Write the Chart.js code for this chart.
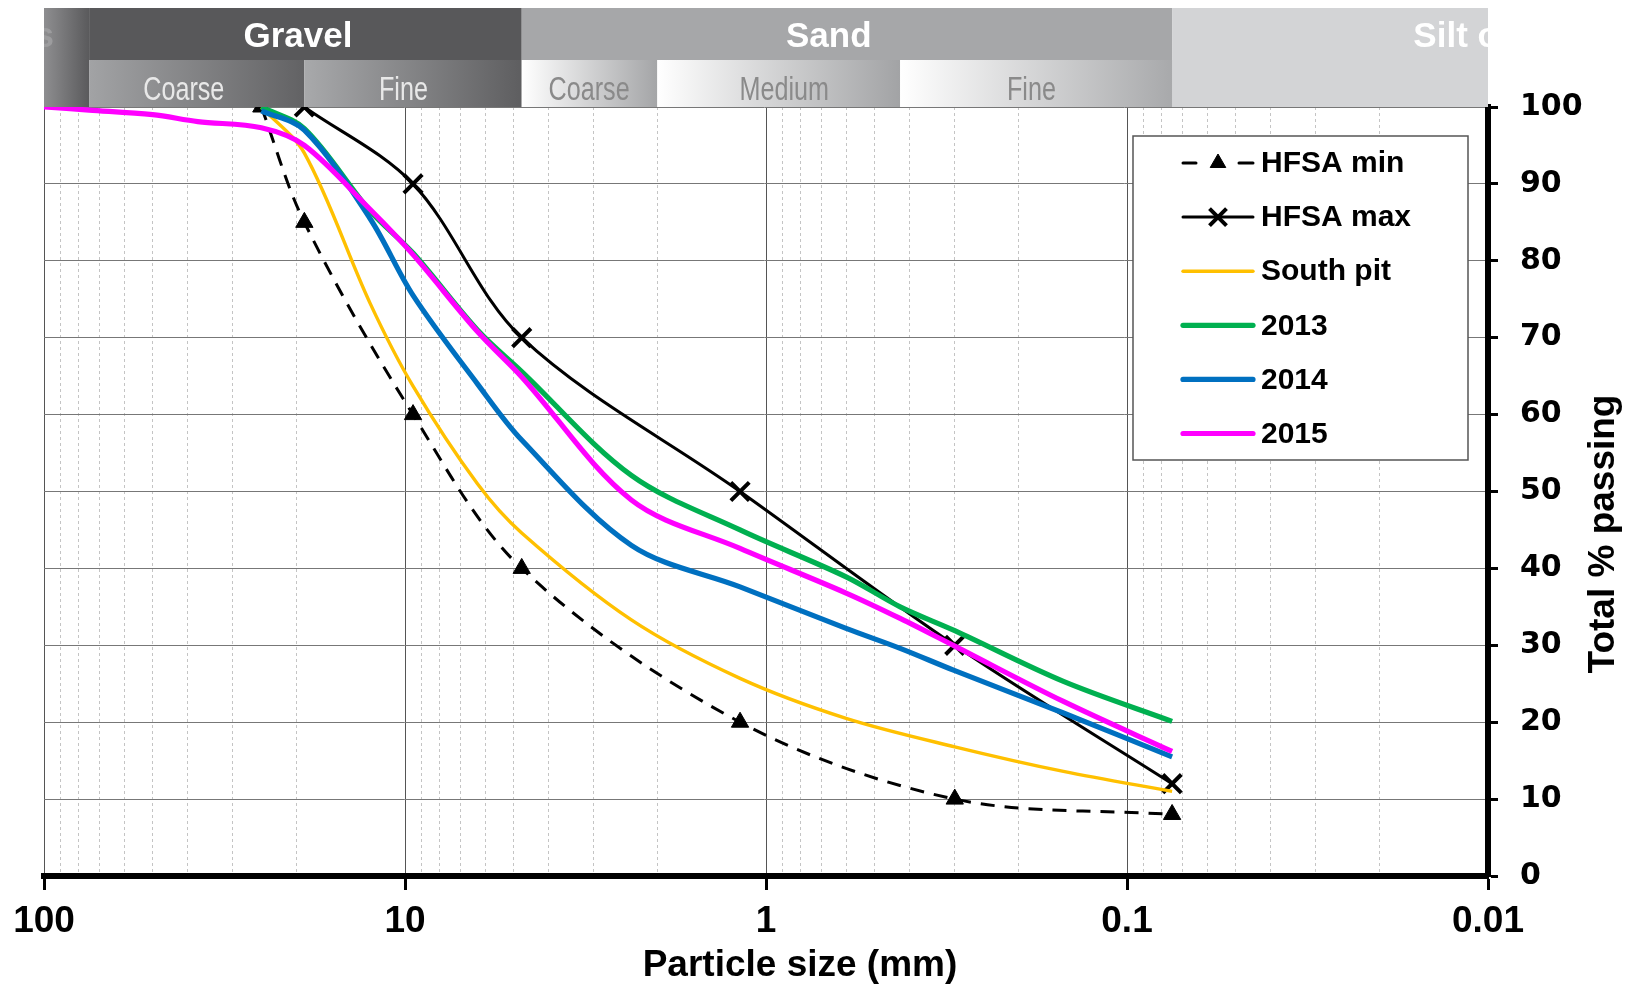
<!DOCTYPE html>
<html>
<head>
<meta charset="utf-8">
<script src="https://cdn.jsdelivr.net/npm/chart.js@4.4.0/dist/chart.umd.min.js"></script>
<style>
html, body { margin: 0; padding: 0; background: #fff; }
#wrap { width: 1632px; height: 988px; }
</style>
</head>
<body>
<div id="wrap"><canvas id="gradChart" width="1632" height="988"></canvas></div>
<script>
// sieve sizes (mm) and % passing
var hfsaMinSize = [25, 19, 9.5, 4.75, 1.18, 0.3, 0.075];
var hfsaMinPass = [100, 85, 60, 40, 20, 10, 8];
var hfsaMaxSize = [19, 9.5, 4.75, 1.18, 0.3, 0.075];
var hfsaMaxPass = [100, 90, 70, 50, 30, 12];
var southPitSize = [25, 19, 12.5, 9.5, 6.3, 4.75, 2.36, 1.18, 0.6, 0.3, 0.15, 0.075];
var southPitPass = [100, 94, 74.5, 63.7, 51, 44.6, 33.3, 25.7, 20.5, 16.8, 13.6, 11];
var sampleSize = [25, 19, 12.5, 9.5, 6.3, 4.75, 2.36, 1.18, 0.6, 0.425, 0.3, 0.15, 0.075];
var pass2013 = [100, 97.2, 86.5, 81, 71, 65.6, 52.1, 45, 38.9, 35, 31.9, 25.3, 20.1];
var pass2014 = [99.5, 97, 85.5, 75.5, 64, 56.7, 43, 37.6, 32.2, 29.6, 26.7, 21.2, 15.5];
var size2015 = [100, 75, 50, 37.5, 25, 19, 12.5, 9.5, 6.3, 4.75, 2.36, 1.18, 0.6, 0.425, 0.3, 0.15, 0.075];
var pass2015 = [100, 99.6, 99, 98.1, 97.3, 95, 86.7, 80.8, 70.8, 64.9, 48.9, 42.6, 36.8, 33.5, 29.9, 22.7, 16.2];

var seriesNames = ['HFSA min', 'HFSA max', 'South pit', '2013', '2014', '2015'];

// axis ticks
var xDecades = [100, 10, 1, 0.1, 0.01];
var xTickLabels = ['100', '10', '1', '0.1', '0.01'];
var yTicks = [0, 10, 20, 30, 40, 50, 60, 70, 80, 90, 100];

// soil classes shown in the band above the plot
var fractionNames = ['Cobbles', 'Gravel', 'Sand', 'Silt or clay'];
var fractionLimits = [[100, 75], [75, 4.75], [4.75, 0.075], [0.075, 0.01]];
var subNames = ['Coarse', 'Fine', 'Coarse', 'Medium', 'Fine'];
var subLimits = [[75, 19], [19, 4.75], [4.75, 2], [2, 0.425], [0.425, 0.075]];

function pts(sizes, vals) {
    var out = [];
    for (var i = 0; i < sizes.length; i++) out.push({x: sizes[i], y: vals[i]});
    return out;
}

function isDecade(v) {
    var l = Math.log10(v);
    return Math.abs(l - Math.round(l)) < 1e-6;
}

var xGridValues = [];
for (var d = 0; d < xDecades.length - 1; d++) {
    for (var m = 1; m <= 9; m++) xGridValues.push(xDecades[d + 1] * m);
}
xGridValues.push(100);

var bandPlugin = {
    id: 'band',
    afterDatasetsDraw: function(chart) {
        var ctx = chart.ctx, xs = chart.scales.x, area = chart.chartArea;
        var top = 8, mid = 60, bot = area.top;
        ctx.save();
        ctx.beginPath();
        ctx.rect(area.left, top, area.right - area.left, bot - top);
        ctx.clip();

        function grad(x0, x1, y0, y1, c0, c1) {
            var g = ctx.createLinearGradient(x0, 0, x1, 0);
            g.addColorStop(0, c0);
            g.addColorStop(1, c1);
            ctx.fillStyle = g;
            ctx.fillRect(x0, y0, x1 - x0, y1 - y0);
        }
        function px(v) { return xs.getPixelForValue(v); }

        // top row
        var topFill = [['#8e8e90', '#5a5a5c'], ['#58585a', '#58585a'], ['#a6a7a9', '#a6a7a9'], ['#d3d4d6', '#d3d4d6']];
        for (var i = 0; i < fractionLimits.length; i++) {
            var a = px(fractionLimits[i][0]), b = px(fractionLimits[i][1]);
            var full = (i === 0 || i === 3);
            grad(a, b, top, full ? bot : mid, topFill[i][0], topFill[i][1]);
        }
        // bottom row
        var subFill = [['#a2a3a5', '#626264'], ['#a8a9ab', '#5e5e60'], ['#ffffff', '#a4a5a7'], ['#ffffff', '#a2a3a5'], ['#ffffff', '#a8a9ab']];
        var subText = ['#e8e8e8', '#e8e8e8', '#8a8a8a', '#8a8a8a', '#8a8a8a'];
        for (var j = 0; j < subLimits.length; j++) {
            var s0 = px(subLimits[j][0]), s1 = px(subLimits[j][1]);
            grad(s0, s1, mid, bot, subFill[j][0], subFill[j][1]);
        }

        // labels (anchors in mm, where the original artwork put them)
        var topAt = [null, 19.8, 0.67, 0.0161];
        var subAt = [41, 10.1, 3.09, 0.89, 0.184];
        ctx.textBaseline = 'middle';
        ctx.font = 'bold 35px "Liberation Sans", Arial, sans-serif';
        ctx.fillStyle = '#9c9c9e';
        ctx.textAlign = 'right';
        ctx.fillText(fractionNames[0], px(fractionLimits[0][0]) + 10, 37);
        ctx.fillStyle = '#ffffff';
        ctx.textAlign = 'center';
        ctx.fillText(fractionNames[1], px(topAt[1]), 37);
        ctx.fillText(fractionNames[2], px(topAt[2]), 37);
        ctx.textAlign = 'left';
        ctx.fillText(fractionNames[3], px(topAt[3]), 37);

        ctx.font = '34px "Liberation Sans", Arial, sans-serif';
        ctx.textAlign = 'center';
        for (var k = 0; k < subLimits.length; k++) {
            ctx.save();
            ctx.translate(px(subAt[k]), 91);
            ctx.scale(0.74, 1);
            ctx.fillStyle = subText[k];
            ctx.fillText(subNames[k], 0, 0);
            ctx.restore();
        }
        ctx.restore();
    }
};

var legendPlugin = {
    id: 'boxLegend',
    afterDraw: function(chart) {
        var ctx = chart.ctx;
        var bx = 1133, by = 136, bw = 335, bh = 324;
        ctx.save();
        ctx.fillStyle = '#ffffff';
        ctx.fillRect(bx, by, bw, bh);
        ctx.strokeStyle = '#555';
        ctx.lineWidth = 1.5;
        ctx.strokeRect(bx, by, bw, bh);

        var x0 = 1183, x1 = 1253, tx = 1261;
        ctx.font = 'bold 30px "Liberation Sans", Arial, sans-serif';
        ctx.textBaseline = 'middle';
        ctx.textAlign = 'left';
        for (var i = 0; i < seriesNames.length; i++) {
            var ds = chart.data.datasets[i];
            var y = 163 + i * 54.1;
            var cx = (x0 + x1) / 2;
            ctx.strokeStyle = ds.borderColor;
            ctx.lineWidth = ds.borderWidth;
            ctx.lineCap = 'round';
            ctx.beginPath();
            if (ds.borderDash) {
                // short dash either side of the marker
                ctx.moveTo(x0, y); ctx.lineTo(x0 + 13, y);
                ctx.moveTo(x1 - 14, y); ctx.lineTo(x1, y);
            } else {
                ctx.moveTo(x0, y);
                ctx.lineTo(x1, y);
            }
            ctx.stroke();
            if (ds.pointRadius > 0) {
                ctx.fillStyle = ds.pointBackgroundColor;
                ctx.strokeStyle = ds.pointBorderColor;
                ctx.lineWidth = ds.pointBorderWidth;
                ctx.lineCap = 'butt';
                Chart.helpers.drawPoint(ctx, {pointStyle: ds.pointStyle, radius: ds.pointRadius - 1, borderWidth: ds.pointBorderWidth, rotation: 0}, cx, y);
            }
            ctx.fillStyle = '#000';
            ctx.fillText(ds.label, tx, y + 1);
        }

        // x axis title, centred where the original has it
        ctx.textAlign = 'center';
        ctx.font = 'bold 37px "Liberation Sans", Arial, sans-serif';
        ctx.fillText('Particle size (mm)', 800, 966);

        // right-hand axis title, reading bottom to top
        ctx.translate(1604, 534);
        ctx.rotate(-Math.PI / 2);
        ctx.font = 'bold 37px "Liberation Sans", Arial, sans-serif';
        ctx.fillText('Total % passing', 0, 0);
        ctx.restore();
    }
};

var ctx = document.getElementById('gradChart').getContext('2d');
var gradChart = new Chart(ctx, {
    type: 'line',
    data: {
        datasets: [{
            label: seriesNames[0],
            data: pts(hfsaMinSize, hfsaMinPass),
            borderColor: '#000',
            borderWidth: 3,
            borderDash: [14, 10],
            pointStyle: 'triangle',
            pointRadius: 10,
            pointBackgroundColor: '#000',
            pointBorderColor: '#000',
            pointBorderWidth: 1,
            order: 5
        }, {
            label: seriesNames[1],
            data: pts(hfsaMaxSize, hfsaMaxPass),
            borderColor: '#000',
            borderWidth: 3,
            pointStyle: 'crossRot',
            pointRadius: 13,
            pointBackgroundColor: '#000',
            pointBorderColor: '#000',
            pointBorderWidth: 4,
            order: 4
        }, {
            label: seriesNames[2],
            data: pts(southPitSize, southPitPass),
            borderColor: '#FFC000',
            borderWidth: 3.4,
            pointRadius: 0,
            order: 3
        }, {
            label: seriesNames[3],
            data: pts(sampleSize, pass2013),
            borderColor: '#00B050',
            borderWidth: 5.2,
            pointRadius: 0,
            order: 2
        }, {
            label: seriesNames[4],
            data: pts(sampleSize, pass2014),
            borderColor: '#0070C0',
            borderWidth: 5.2,
            pointRadius: 0,
            order: 1
        }, {
            label: seriesNames[5],
            data: pts(size2015, pass2015),
            borderColor: '#FF00FF',
            borderWidth: 5.2,
            pointRadius: 0,
            order: 0
        }]
    },
    options: {
        responsive: false,
        animation: false,
        devicePixelRatio: 1,
        layout: { padding: { top: 107, left: 44, right: 0, bottom: 0 } },
        elements: { line: { tension: 0.33, fill: false } },
        plugins: {
            legend: { display: false },
            tooltip: { enabled: false }
        },
        scales: {
            x: {
                type: 'logarithmic',
                reverse: true,
                min: 0.01,
                max: 100,
                afterBuildTicks: function(scale) {
                    scale.ticks = xGridValues.map(function(v) { return {value: v, major: isDecade(v)}; });
                },
                afterFit: function(scale) { scale.height = 112; },
                ticks: {
                    autoSkip: false,
                    maxRotation: 0,
                    minRotation: 0,
                    padding: 10,
                    color: '#000',
                    font: { family: '"Liberation Sans", Arial, sans-serif', size: 37, weight: 'bold' },
                    callback: function(v) {
                        var idx = xDecades.findIndex(function(d) { return Math.abs(Math.log10(d) - Math.log10(v)) < 1e-6; });
                        return idx >= 0 ? xTickLabels[idx] : '';
                    }
                },
                grid: {
                    color: function(c) { return c.tick && isDecade(c.tick.value) ? '#555' : '#c4c4c4'; },
                    lineWidth: 1,
                    tickColor: function(c) { return c.tick && isDecade(c.tick.value) ? '#000' : 'rgba(0,0,0,0)'; },
                    tickWidth: 3,
                    tickLength: 14
                },
                border: {
                    color: '#000',
                    width: 6,
                    dash: function(c) { return c.tick && !isDecade(c.tick.value) ? [3, 3] : []; }
                },
                title: { display: false }
            },
            y: {
                type: 'linear',
                position: 'right',
                min: 0,
                max: 100,
                afterBuildTicks: function(scale) {
                    scale.ticks = yTicks.map(function(v) { return {value: v}; });
                },
                afterFit: function(scale) { scale.width = 144; },
                ticks: {
                    padding: 22,
                    color: '#000',
                    font: { family: '"DejaVu Sans", sans-serif', size: 30, weight: 'bold' }
                },
                grid: {
                    color: '#777',
                    lineWidth: 1,
                    tickColor: '#000',
                    tickWidth: 3,
                    tickLength: 10
                },
                border: { color: '#000', width: 6 }
            }
        }
    },
    plugins: [bandPlugin, legendPlugin]
});
</script>
</body>
</html>
